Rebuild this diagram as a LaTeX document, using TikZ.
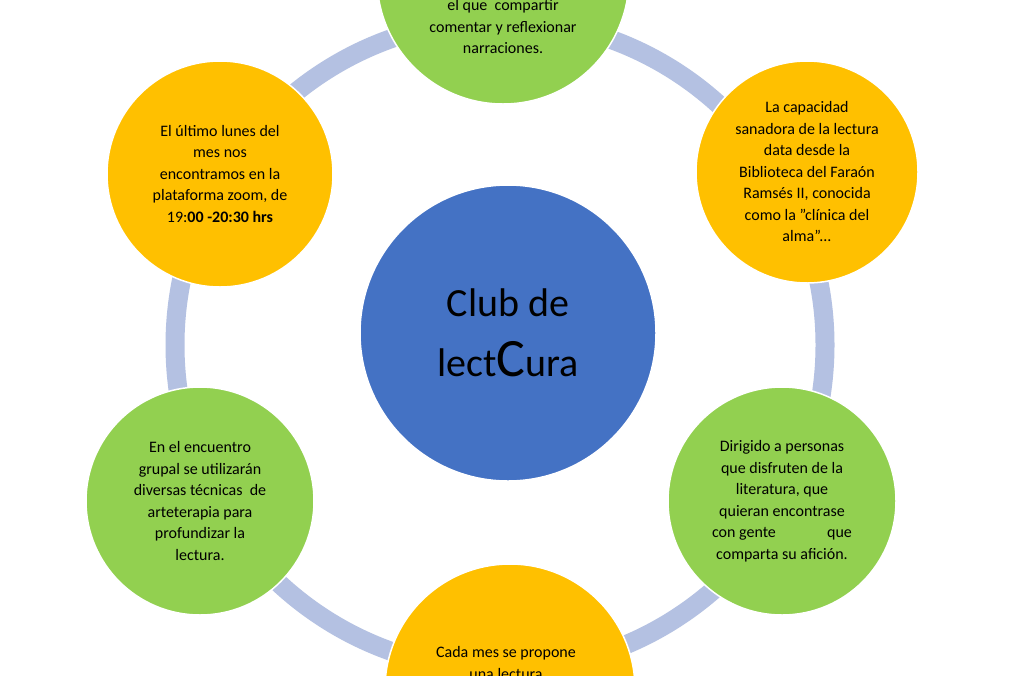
\documentclass[tikz,border=0pt]{standalone}
\usepackage{fontspec}
\setmainfont{Carlito}
\begin{document}
\begin{tikzpicture}[x=1pt,y=-1pt,
  bubble/.style={circle,draw=white,line width=1.5pt,inner sep=0pt,align=center,
    font=\fontsize{16}{21.5}\selectfont},
  verde/.style={bubble,fill={rgb,255:red,146;green,208;blue,80}},
  naranja/.style={bubble,fill={rgb,255:red,255;green,192;blue,0}}]
\useasboundingbox (0,0) rectangle (1024,675);
\clip (0,0) rectangle (1024,675);
\fill[white] (0,0) rectangle (1024,675);
% anillo
\draw[line width=19pt,color={rgb,255:red,180;green,193;blue,226}] (500,345) circle (325);
% centro
\node[circle,fill={rgb,255:red,68;green,114;blue,196},draw=white,line width=1.5pt,
  minimum size=296pt,align=center,font=\fontsize{40}{60}\selectfont] (club) at (508,333)
  {Club de\\lect{\fontsize{54}{60}\selectfont C}ura};
% burbujas
\node[verde,minimum size=252pt] (arriba) at (503,-22) {};
\node[align=center,font=\fontsize{16}{21.5}\selectfont,anchor=north] (arribatxt) at (503,-4)
  {el que\ \ compartir\\comentar y reflexionar\\narraciones.};
\node[naranja,minimum size=222pt] (dersup) at (807,172)
  {La capacidad\\sanadora de la lectura\\data desde la\\Biblioteca del Faraón\\Ramsés II, conocida\\como la "clínica del\\alma"...};
\node[verde,minimum size=228pt] (derinf) at (782,501)
  {Dirigido a personas\\que disfruten de la\\literatura, que\\quieran encontrase\\con gente\hspace{3.2em}que\\comparta su afición.};
\node[naranja,minimum size=250pt] (abajo) at (510,689) {};
\node[align=center,font=\fontsize{16}{21.5}\selectfont,anchor=north] (abajotxt) at (506,643)
  {Cada mes se propone\\una lectura};
\node[verde,minimum size=228pt] (izqinf) at (200,501)
  {En el encuentro\\grupal se utilizarán\\diversas técnicas\ \ de\\arteterapia para\\profundizar la\\lectura.};
\node[naranja,minimum size=226pt] (izqsup) at (220,174)
  {El último lunes del\\mes nos\\encontramos en la\\plataforma zoom, de\\19:\textbf{00 -20:30 hrs}};
\end{tikzpicture}
\end{document}
